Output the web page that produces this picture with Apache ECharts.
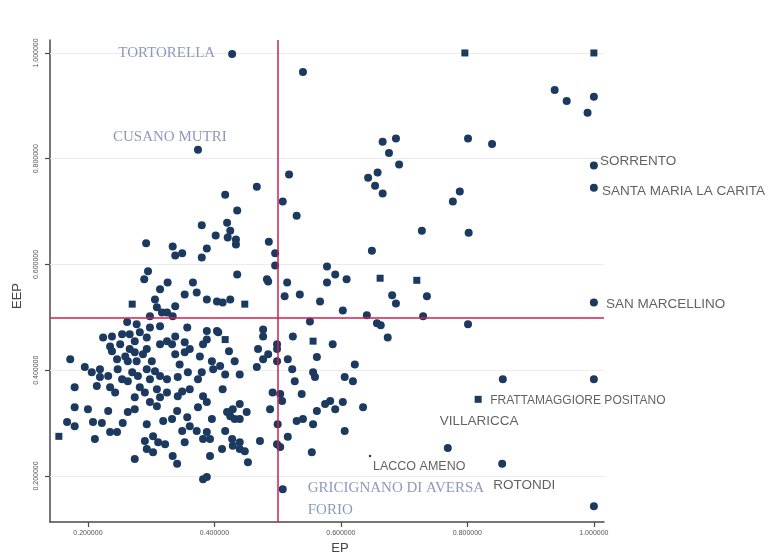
<!DOCTYPE html>
<html>
<head>
<meta charset="utf-8">
<script src="https://cdn.jsdelivr.net/npm/echarts@6/dist/echarts.min.js"></script>
<style>html,body{margin:0;padding:0;background:#fff;}#c{width:774px;height:560px;}</style>
</head>
<body>
<div id="c"></div>
<script>
// ---- data (EP, EEP) ----
const circleEP = [0.428,0.540,0.938,0.957,1.000,0.990,0.801,0.839,0.666,0.687,0.676,0.692,0.643,0.658,0.654,0.666,1.000,1.000,0.777,0.788,0.728,0.802,0.649,0.609,0.681,0.687,0.736,0.603,1.000,0.641,0.730,0.657,0.663,0.801,0.674,0.374,0.518,0.467,0.417,0.508,0.436,0.530,0.380,0.420,0.425,0.402,0.421,0.434,0.434,0.486,0.292,0.334,0.338,0.349,0.388,0.380,0.496,0.496,0.295,0.289,0.326,0.366,0.436,0.483,0.578,0.591,0.515,0.578,0.314,0.353,0.372,0.388,0.404,0.413,0.306,0.309,0.317,0.298,0.338,0.334,0.325,0.262,0.277,0.298,0.314,0.357,0.388,0.404,0.224,0.238,0.235,0.266,0.274,0.282,0.293,0.325,0.338,0.333,0.238,0.246,0.266,0.274,0.293,0.277,0.263,0.338,0.353,0.377,0.172,0.195,0.206,0.219,0.219,0.232,0.247,0.254,0.270,0.279,0.293,0.298,0.314,0.325,0.342,0.358,0.374,0.380,0.398,0.409,0.179,0.214,0.235,0.282,0.309,0.325,0.349,0.413,0.388,0.382,0.406,0.179,0.200,0.232,0.263,0.274,0.298,0.309,0.341,0.374,0.388,0.420,0.167,0.179,0.208,0.222,0.255,0.235,0.246,0.211,0.293,0.319,0.333,0.357,0.361,0.349,0.372,0.396,0.388,0.382,0.290,0.293,0.303,0.311,0.322,0.303,0.274,0.334,0.341,0.353,0.393,0.412,0.388,0.382,0.485,0.511,0.535,0.567,0.551,0.477,0.477,0.524,0.587,0.469,0.485,0.499,0.499,0.467,0.477,0.499,0.516,0.562,0.523,0.556,0.559,0.622,0.606,0.619,0.527,0.492,0.504,0.538,0.440,0.451,0.432,0.488,0.507,0.500,0.530,0.540,0.556,0.562,0.575,0.583,0.603,0.635,0.606,0.516,0.499,0.504,0.472,0.440,0.448,0.453,0.554,0.508,0.856,1.000,0.769,0.855,1.000,0.425,0.423,0.353,0.396,0.417,0.440,0.361,0.382,0.342,0.432,0.429,0.425,0.440,0.417,0.428,0.429,0.393,0.440,0.591,0.251,0.259,0.287,0.301,0.306,0.263,0.290,0.243,0.314,0.274,0.254,0.314,0.345,0.361];
const circleEEP = [0.998,0.964,0.930,0.909,0.917,0.887,0.838,0.828,0.832,0.838,0.811,0.789,0.764,0.774,0.749,0.734,0.787,0.745,0.719,0.738,0.664,0.660,0.626,0.572,0.542,0.526,0.540,0.513,0.528,0.504,0.502,0.489,0.485,0.487,0.462,0.817,0.770,0.747,0.732,0.719,0.702,0.692,0.674,0.679,0.664,0.655,0.651,0.647,0.638,0.643,0.640,0.634,0.617,0.621,0.630,0.613,0.621,0.598,0.587,0.572,0.566,0.566,0.581,0.572,0.596,0.581,0.566,0.566,0.553,0.543,0.547,0.534,0.530,0.528,0.534,0.519,0.509,0.502,0.521,0.502,0.509,0.491,0.487,0.481,0.483,0.481,0.474,0.474,0.462,0.464,0.445,0.468,0.455,0.472,0.462,0.455,0.464,0.449,0.436,0.421,0.440,0.434,0.440,0.417,0.417,0.430,0.434,0.426,0.421,0.406,0.396,0.387,0.402,0.389,0.402,0.383,0.396,0.389,0.402,0.383,0.389,0.383,0.387,0.396,0.383,0.396,0.402,0.408,0.368,0.370,0.368,0.368,0.364,0.358,0.360,0.364,0.458,0.449,0.472,0.330,0.326,0.323,0.321,0.326,0.340,0.332,0.323,0.330,0.340,0.321,0.302,0.294,0.302,0.300,0.300,0.283,0.283,0.270,0.298,0.304,0.308,0.311,0.294,0.285,0.285,0.308,0.283,0.270,0.266,0.251,0.275,0.264,0.260,0.245,0.232,0.238,0.223,0.264,0.238,0.251,0.198,0.194,0.568,0.540,0.543,0.530,0.492,0.477,0.464,0.464,0.449,0.440,0.430,0.440,0.449,0.406,0.421,0.417,0.421,0.425,0.402,0.396,0.387,0.411,0.387,0.379,0.379,0.358,0.355,0.355,0.336,0.321,0.308,0.326,0.342,0.298,0.304,0.308,0.298,0.323,0.336,0.342,0.340,0.330,0.285,0.274,0.260,0.255,0.266,0.264,0.247,0.226,0.245,0.175,0.383,0.383,0.253,0.223,0.143,0.534,0.436,0.453,0.417,0.392,0.392,0.364,0.351,0.351,0.417,0.326,0.313,0.308,0.285,0.270,0.257,0.270,0.251,0.326,0.449,0.426,0.430,0.417,0.398,0.379,0.358,0.358,0.349,0.349,0.468,0.449,0.411,0.440];
const squareEP  = [0.270,0.417,0.448,0.556,0.662,0.720,0.796,1.000,0.817,0.154];
const squareEEP = [0.525,0.458,0.525,0.455,0.574,0.570,1.000,1.000,0.345,0.275];
const dotEP  = [0.646];
const dotEEP = [0.238];

const labelNames = ['TORTORELLA','CUSANO MUTRI','SORRENTO','SANTA MARIA LA CARITA','SAN MARCELLINO','FRATTAMAGGIORE POSITANO','VILLARICCA','LACCO AMENO','GRICIGNANO DI AVERSA','FORIO','ROTONDI'];
const labelEP  = [0.428,0.374,1.000,1.000,1.000,0.817,0.769,0.646,0.508,0.508,0.855];
const labelEEP = [0.998,0.817,0.787,0.745,0.528,0.345,0.253,0.238,0.175,0.175,0.223];

const tickValues = [0.2,0.4,0.6,0.8,1.0];
const cutEP = 0.5, cutEEP = 0.5;

// ---- label layout (styles) ----
const serif = {fontFamily:'Liberation Serif', fontSize:15, color:'#6d82a8'};
const sans  = {fontFamily:'Liberation Sans', fontSize:13.5, color:'#3a3a3a'};
const labelLayout = {
  'TORTORELLA': Object.assign({position:'left', distance:17, offset:[0,-1]}, serif),
  'CUSANO MUTRI': Object.assign({position:'right', distance:0, offset:[-85,-13]}, serif),
  'SORRENTO': Object.assign({position:'right', distance:0, offset:[6,-4]}, sans),
  'SANTA MARIA LA CARITA': Object.assign({position:'right', distance:0, offset:[8,3]}, sans),
  'SAN MARCELLINO': Object.assign({position:'right', distance:0, offset:[12,2]}, sans),
  'FRATTAMAGGIORE POSITANO': Object.assign({position:'right', distance:0, offset:[12,1]}, sans, {fontSize:12}),
  'VILLARICCA': Object.assign({position:'right', distance:0, offset:[-8,-27]}, sans),
  'LACCO AMENO': Object.assign({position:'right', distance:0, offset:[3,11]}, sans, {fontSize:12.5}),
  'GRICIGNANO DI AVERSA': Object.assign({position:'right', distance:0, offset:[25,-1]}, serif),
  'FORIO': Object.assign({position:'right', distance:0, offset:[25,21]}, serif),
  'ROTONDI': Object.assign({position:'right', distance:0, offset:[-9,21]}, sans)
};

const zip = (a,b) => a.map((v,i)=>[v,b[i]]);
const markColor = '#1c3a60';

const chart = echarts.init(document.getElementById('c'), null, {renderer:'canvas'});
const axisCommon = {
  type:'value',
  axisLine:{show:true, onZero:false, lineStyle:{color:'#4a4a4a', width:1.5}},
  axisTick:{show:true, customValues:tickValues, length:5, lineStyle:{color:'#4a4a4a', width:1.2}},
  axisLabel:{customValues:tickValues, fontSize:7, color:'#555', fontFamily:'Liberation Sans', formatter:v=>v.toFixed(6)},
  splitLine:{show:false}
};
chart.setOption({
  backgroundColor:'#fff',
  animation:false,
  grid:{left:50, right:170, top:40, bottom:37},
  xAxis: Object.assign({}, axisCommon, {
    min:0.14, max:1.016, name:'EP', nameLocation:'middle', nameGap:20,
    nameTextStyle:{fontFamily:'Liberation Sans', fontSize:13, color:'#444', padding:[0,0,0,26]},
    axisLabel:Object.assign({}, axisCommon.axisLabel, {margin:8})
  }),
  yAxis: Object.assign({}, axisCommon, {
    min:0.113, max:1.0245, name:'EEP', nameLocation:'middle', nameGap:26, nameRotate:90,
    nameTextStyle:{fontFamily:'Liberation Sans', fontSize:13, color:'#444', padding:[0,0,0,-30]},
    axisLabel:Object.assign({}, axisCommon.axisLabel, {rotate:90, margin:10})
  }),
  series:[
    {
      type:'scatter', name:'grid', data:[], silent:true, z:1,
      markLine:{
        silent:true, symbol:['none','none'], label:{show:false}, z:1,
        lineStyle:{color:'#ececec', width:1, type:'solid'},
        data: tickValues.map(v=>({yAxis:v}))
      }
    },
    {
      type:'scatter', name:'cut', data:[], silent:true, z:3,
      markLine:{
        silent:true, symbol:['none','none'], label:{show:false},
        lineStyle:{color:'#d21f4b', width:1.5, type:'solid'},
        data:[{xAxis:cutEP},{yAxis:cutEEP}]
      }
    },
    {type:'scatter', data:zip(circleEP,circleEEP), symbol:'circle', symbolSize:8, itemStyle:{color:markColor, opacity:1}, z:4},
    {type:'scatter', data:zip(squareEP,squareEEP), symbol:'rect', symbolSize:7, itemStyle:{color:markColor, opacity:1}, z:4},
    {type:'scatter', data:zip(dotEP,dotEEP), symbol:'circle', symbolSize:2.5, itemStyle:{color:markColor, opacity:1}, z:4},
    {
      type:'scatter', symbolSize:0, z:5, silent:true,
      data: labelNames.map((n,i)=>({
        value:[labelEP[i],labelEEP[i]],
        label:Object.assign({show:true, formatter:n}, labelLayout[n])
      }))
    }
  ]
});
</script>
</body>
</html>
